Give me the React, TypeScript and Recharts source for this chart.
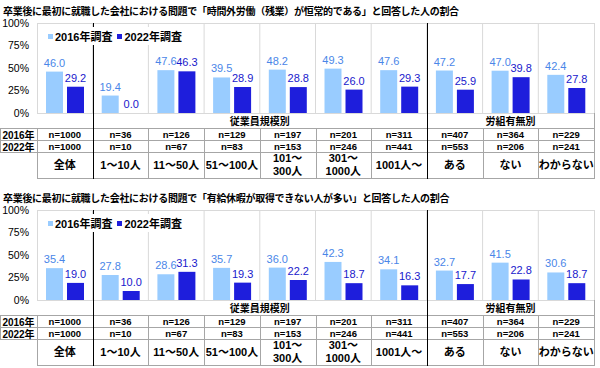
import React from 'react';
import { BarChart, Bar, XAxis, YAxis, CartesianGrid, LabelList } from 'recharts';

// chart data
const categories = ['全体', '1～10人', '11～50人', '51～100人', '101～\n300人', '301～\n1000人', '1001人～', 'ある', 'ない', 'わからない'];
const overtime2016 = [46.0, 19.4, 47.6, 39.5, 48.2, 49.3, 47.6, 47.2, 47.0, 42.4];
const overtime2022 = [29.2, 0.0, 46.3, 28.9, 28.8, 26.0, 29.3, 25.9, 39.8, 27.8];
const leave2016 = [35.4, 27.8, 28.6, 35.7, 36.0, 42.3, 34.1, 32.7, 41.5, 30.6];
const leave2022 = [19.0, 10.0, 31.3, 19.3, 22.2, 18.7, 16.3, 17.7, 22.8, 18.7];
const n2016 = ['n=1000', 'n=36', 'n=126', 'n=129', 'n=197', 'n=201', 'n=311', 'n=407', 'n=364', 'n=229'];
const n2022 = ['n=1000', 'n=10', 'n=67', 'n=83', 'n=153', 'n=246', 'n=441', 'n=553', 'n=206', 'n=241'];
const rowLabels = ['2016年', '2022年'];
const seriesNames = ['2016年調査', '2022年調査'];
const groups = [
  { label: '従業員規模別', from: 1, to: 7 },
  { label: '労組有無別', from: 7, to: 10 },
];
const yTicks = [0, 25, 50, 75, 100];
const titles = [
  '卒業後に最初に就職した会社における問題で「時間外労働（残業）が恒常的である」と回答した人の割合',
  '卒業後に最初に就職した会社における問題で「有給休暇が取得できない人が多い」と回答した人の割合',
];

// layout
const PANEL_H = 187;
const PLOT_L = 37;
const PLOT_R = 594;
const PLOT_T = 23;
const PLOT_B = 113;
const CHART_PAD_B = 10;
const CAT_W = (PLOT_R - PLOT_L) / categories.length;
const ROWS = [128, 140, 152, 178];

const LIGHT = '#99CCFF';
const DARK = '#1E1EDC';
const LIGHT_TXT = '#4A86E8';
const DARK_TXT = '#1818CC';
const GRID = '#D9D9D9';
const TABLE_LINE = '#A6A6A6';
const FONT = "'Liberation Sans', Arial, 'Noto Sans CJK JP', sans-serif";

const catX = (k: number) => PLOT_L + k * CAT_W;

const hLine = (key: string, x1: number, x2: number, y: number, color = TABLE_LINE) => (
  <div key={key} style={{ position: 'absolute', left: Math.round(x1), top: y, width: Math.round(x2 - x1) + 1, height: 1, background: color }} />
);
const vLine = (key: string, x: number, y1: number, y2: number, color = TABLE_LINE) => (
  <div key={key} style={{ position: 'absolute', left: Math.round(x), top: y1, width: 1, height: y2 - y1 + 1, background: color }} />
);
const cellText = (key: string, x1: number, x2: number, y1: number, y2: number, text: string, style: React.CSSProperties) => (
  <div
    key={key}
    style={{
      position: 'absolute', left: x1, top: y1, width: x2 - x1, height: y2 - y1,
      display: 'flex', alignItems: 'center', justifyContent: 'center',
      textAlign: 'center', whiteSpace: 'pre', ...style,
    }}
  >
    {text}
  </div>
);

function Panel({ top, title, v2016, v2022 }: { top: number; title: string; v2016: number[]; v2022: number[] }) {
  const data = categories.map((c, i) => ({ name: c, y2016: v2016[i], y2022: v2022[i] }));
  const groupStarts = groups.map(g => g.from);
  const lines: React.ReactNode[] = [];

  // table lines
  lines.push(hLine('t0', 0, PLOT_R, ROWS[0]));
  lines.push(hLine('t1', 0, PLOT_R, ROWS[1]));
  lines.push(hLine('t2', 0, PLOT_R, ROWS[2]));
  lines.push(hLine('t3', PLOT_L, PLOT_R, ROWS[3]));
  lines.push(vLine('v0', 0, ROWS[0], ROWS[2]));
  lines.push(vLine('vl', PLOT_L, ROWS[0], ROWS[3]));
  for (let k = 1; k < categories.length; k++) {
    if (!groupStarts.includes(k)) lines.push(vLine('vc' + k, catX(k), ROWS[0], ROWS[3]));
  }
  lines.push(vLine('vr', PLOT_R, PLOT_B, ROWS[3]));
  groupStarts.forEach(k => lines.push(vLine('vb' + k, catX(k), PLOT_T, ROWS[3], '#000')));

  const texts: React.ReactNode[] = [];
  rowLabels.forEach((r, i) =>
    texts.push(cellText('rl' + i, 0, PLOT_L, ROWS[i], ROWS[i + 1], r, { fontSize: 10, fontWeight: 'bold' })),
  );
  [n2016, n2022].forEach((arr, r) =>
    arr.forEach((n, i) =>
      texts.push(cellText(`n${r}-${i}`, catX(i), catX(i + 1), ROWS[r], ROWS[r + 1], n, { fontSize: 9.5, fontWeight: 'bold' })),
    ),
  );
  categories.forEach((c, i) =>
    texts.push(cellText('c' + i, catX(i), catX(i + 1), ROWS[2], ROWS[3], c, { fontSize: 11, fontWeight: 'bold', lineHeight: '13px' })),
  );
  groups.forEach((g, i) =>
    texts.push(cellText('g' + i, catX(g.from), catX(g.to), PLOT_B, ROWS[0], g.label, { fontSize: 10, fontWeight: 'bold' })),
  );

  return (
    <div style={{ position: 'absolute', left: 0, top, width: 600, height: PANEL_H }}>
      <div style={{ position: 'absolute', left: 3, top: 5, fontSize: 10, fontWeight: 'bold', whiteSpace: 'nowrap', lineHeight: '14px', letterSpacing: '-0.3px' }}>
        {title}
      </div>
      <div style={{ position: 'absolute', left: 0, top: 0 }}>
        <BarChart
          width={600}
          height={PLOT_B + CHART_PAD_B}
          data={data}
          margin={{ top: PLOT_T, right: 600 - PLOT_R, left: 0, bottom: CHART_PAD_B }}
          barSize={17}
          barGap={4}
        >
          <CartesianGrid
            horizontal={false}
            stroke={GRID}
            verticalPoints={categories.slice(1).map((_, k) => catX(k + 1))}
          />
          <XAxis dataKey="name" hide />
          <YAxis
            domain={[0, 100]}
            ticks={yTicks}
            interval={0}
            width={PLOT_L}
            tickFormatter={(v: number) => `${v}%`}
            tick={{ fill: '#000', fontSize: 10.5, fontFamily: FONT }}
            axisLine={false}
            tickLine={false}
          />
          <Bar dataKey="y2016" name={seriesNames[0]} fill={LIGHT} minPointSize={0.01} isAnimationActive={false}>
            <LabelList dataKey="y2016" position="top" offset={5} fill={LIGHT_TXT} fontSize={11} fontFamily={FONT}
              formatter={(v: any) => Number(v).toFixed(1)} />
          </Bar>
          <Bar dataKey="y2022" name={seriesNames[1]} fill={DARK} minPointSize={0.01} isAnimationActive={false}>
            <LabelList dataKey="y2022" position="top" offset={5} fill={DARK_TXT} fontSize={11} fontFamily={FONT}
              formatter={(v: any) => Number(v).toFixed(1)} />
          </Bar>
        </BarChart>
      </div>
      {/* plot frame */}
      <div style={{ position: 'absolute', left: PLOT_L, top: PLOT_T, width: PLOT_R - PLOT_L - 1, height: PLOT_B - PLOT_T - 1, border: `1px solid ${GRID}` }} />
      {lines}
      {texts}
      {/* legend */}
      <div style={{ position: 'absolute', left: 45, top: 27, height: 18, width: 140, background: '#fff', display: 'flex', alignItems: 'center', fontSize: 11, fontWeight: 'bold', whiteSpace: 'nowrap' }}>
        {seriesNames.map((s, i) => (
          <span key={s} style={{ display: 'flex', alignItems: 'center', marginLeft: i === 0 ? 3 : 5 }}>
            <span style={{ width: 5, height: 5, background: i === 0 ? LIGHT : DARK, marginRight: 2 }} />
            {s}
          </span>
        ))}
      </div>
    </div>
  );
}

export default function App() {
  return (
    <div style={{ position: 'absolute', left: 0, top: 0, width: 600, height: 368, background: '#fff', fontFamily: FONT, color: '#000', overflow: 'hidden' }}>
      <Panel top={0} title={titles[0]} v2016={overtime2016} v2022={overtime2022} />
      <Panel top={PANEL_H} title={titles[1]} v2016={leave2016} v2022={leave2022} />
    </div>
  );
}
